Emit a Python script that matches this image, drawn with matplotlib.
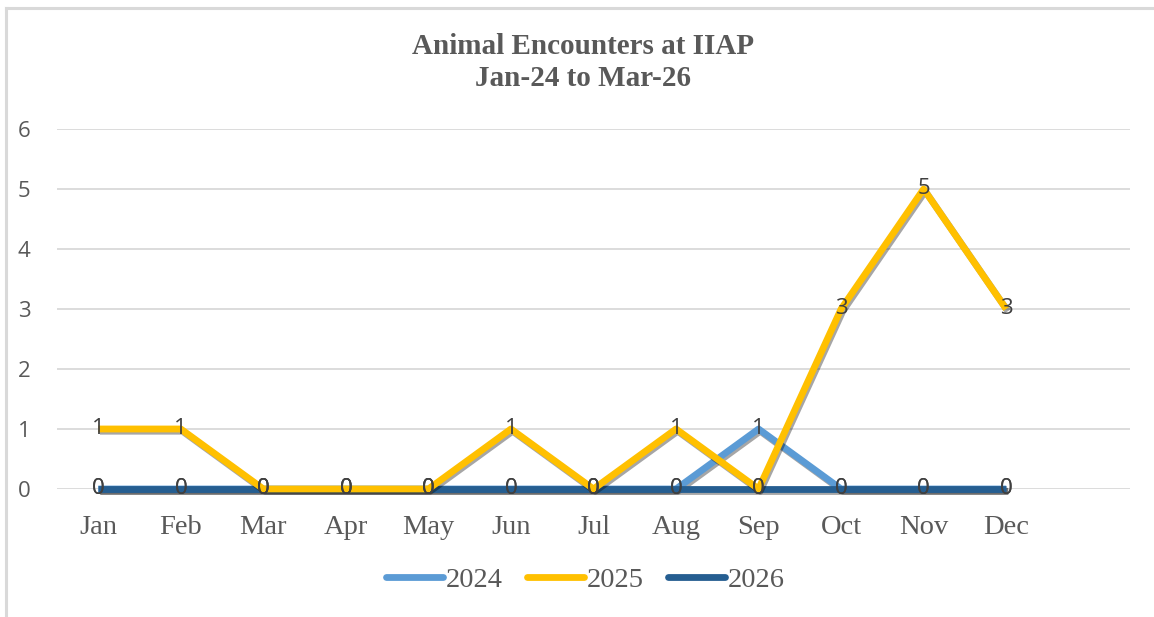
import matplotlib
matplotlib.use("Agg")
import matplotlib.pyplot as plt
import matplotlib.patheffects as pe
from matplotlib.lines import Line2D

months = ["Jan", "Feb", "Mar", "Apr", "May", "Jun", "Jul", "Aug", "Sep", "Oct", "Nov", "Dec"]
series_names = ["2024", "2025", "2026"]
v2024 = [0, 0, 0, 0, 0, 0, 0, 0, 1, 0, 0, 0]
v2025 = [1, 1, 0, 0, 0, 1, 0, 1, 0, 3, 5, 3]
v2026 = [0, 0, 0, 0, 0, 0, 0, 0, 0, 0, 0, 0]
colors = ["#5B9BD5", "#FFC000", "#255E91"]
yticks = [0, 1, 2, 3, 4, 5, 6]

W, H = 1154, 617
fig = plt.figure(figsize=(W / 100, H / 100), dpi=100)
fig.patch.set_facecolor("white")

# outer frame (top and left)
fig.add_artist(Line2D([6 / W, 6 / W], [0, 1 - 7.5 / H], color="#D9D9D9", lw=2.2, transform=fig.transFigure))
fig.add_artist(Line2D([6 / W, 1], [1 - 7.5 / H, 1 - 7.5 / H], color="#D9D9D9", lw=2.2, transform=fig.transFigure))

left, right = 57 / W, 1130 / W
bottom, top = 1 - 489 / H, 1 - 129 / H
ax = fig.add_axes([left, bottom, right - left, top - bottom])

x = list(range(len(months)))
shadow = [pe.SimpleLineShadow(offset=(1.2, -1.6), shadow_color="black", alpha=0.35), pe.Normal()]
zorders = {"2024": 3, "2025": 5, "2026": 4}
data = {"2024": v2024, "2025": v2025, "2026": v2026}
for name, col in zip(series_names, colors):
    ax.plot(x, data[name], color=col, lw=4.9, solid_capstyle="butt", solid_joinstyle="round",
            zorder=zorders[name], path_effects=shadow, label=name, clip_on=False)
    for xi, yi in zip(x, data[name]):
        ax.text(xi, yi, str(yi), ha="center", va="center", fontsize=16, color="#404040",
                family="Open Sans", zorder=10)

ax.set_xlim(-0.5, 12.5)
ax.set_ylim(0, 6)
ax.set_yticks(yticks)
ax.set_yticklabels([str(t) for t in yticks], fontsize=16, color="#595959", family="Open Sans")
ax.set_xticks(x)
ax.set_xticklabels(months, fontsize=20.5, color="#595959", family="Liberation Serif")
ax.tick_params(axis="y", length=0, pad=19)
ax.tick_params(axis="x", length=0, pad=19)
ax.grid(axis="y", color="#D9D9D9", lw=1.3)
ax.set_axisbelow(True)
for s in ax.spines.values():
    s.set_visible(False)

fig.text(583 / W, 1 - 47 / H, "Animal Encounters at IIAP", ha="center", va="center",
         fontsize=21, fontweight="bold", color="#595959", family="Liberation Serif")
fig.text(583 / W, 1 - 79 / H, "Jan-24 to Mar-26", ha="center", va="center",
         fontsize=21, fontweight="bold", color="#595959", family="Liberation Serif")

leg_handles = [Line2D([], [], color=c, lw=4.9, solid_capstyle="round") for c in colors]
fig.legend(leg_handles, series_names, loc="center", bbox_to_anchor=(585 / W, 1 - 580 / H), ncol=3,
           frameon=False, prop={"family": "Liberation Serif", "size": 20.5}, handlelength=2.0,
           handletextpad=0.1, columnspacing=0.85, labelcolor="#595959")

fig.savefig("out.png", dpi=100, facecolor="white")
